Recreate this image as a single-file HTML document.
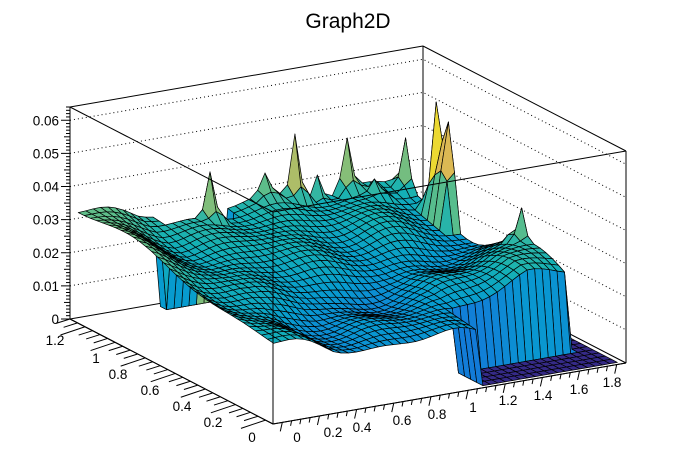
<!DOCTYPE html>
<html><head><meta charset="utf-8">
<style>html,body{margin:0;padding:0;background:#fff;}svg{display:block;font-family:"Liberation Sans",Arial,sans-serif;}</style>
</head><body>
<svg id="s" width="696" height="472" xmlns="http://www.w3.org/2000/svg">
<text x="348" y="28" text-anchor="middle" font-size="21">Graph2D</text>
<g id="back"></g><g id="surf"></g><g id="front"></g>
</svg>
<script>
const NS="http://www.w3.org/2000/svg";
const F=[273,424],X0=-0.05,Y0=-0.05,LX=1.9,LY=1.35,ZM=0.064;
const ex=[353,-61],ey=[-203,-105],ez=212;
function P(x,y,z){const a=(x-X0)/LX,b=(y-Y0)/LY;return [F[0]+a*ex[0]+b*ey[0],F[1]+a*ex[1]+b*ey[1]-z/ZM*ez];}
function el(p,tag,at,txt){const e=document.createElementNS(NS,tag);for(const k in at)e.setAttribute(k,at[k]);if(txt!==undefined)e.textContent=txt;p.appendChild(e);return e;}
const back=document.getElementById('back'),surf=document.getElementById('surf'),front=document.getElementById('front');
const L=P(X0,Y0+LY,0),B=P(X0+LX,Y0+LY,0),R=P(X0+LX,Y0,0),Fc=P(X0,Y0,0);
for(let k=1;k<=6;k++){const z=k*0.01;const a=P(X0,Y0+LY,z),b=P(X0+LX,Y0+LY,z),c=P(X0+LX,Y0,z);
el(back,'polyline',{points:`${a} ${b} ${c}`,fill:'none',stroke:'#000','stroke-width':1,'stroke-dasharray':'1,3'});}
const ln=(g,a,b,w)=>el(g,'line',{x1:a[0],y1:a[1],x2:b[0],y2:b[1],stroke:'#000','stroke-width':w||1});
ln(back,L,B);ln(back,B,R);ln(back,L,Fc);ln(back,Fc,R);
ln(back,L,P(X0,Y0+LY,ZM));ln(back,B,P(X0+LX,Y0+LY,ZM));ln(back,R,P(X0+LX,Y0,ZM));
const nx=46,ny=32,xa=-0.03,xb=1.82,ya=-0.03,yb=1.27;
function zb(x,y){
 if(x>1.08&&y<0.16)return 0; if(x>1.72)return 0; if(y>1.2&&x>0.38&&x<0.76)return 0;
 let z=0.019+0.009*y/1.2+(x<0.3?0.005*(0.3-x)/0.3:0)-0.002*x;
 z-=0.004*Math.exp(-Math.pow((y-0.15-0.35*x)/0.18,2))*Math.min(1,x*2);
 z+=0.0015*Math.sin(9*x+2*y)*Math.cos(7*y)+0.001*Math.sin(14*x-5*y);
 if(x>1.1) z+=0.009*Math.min(1,(x-1.1)/0.4)*Math.exp(-Math.pow((y-0.3)/0.3,2));
 return Math.max(z,0.004);
}
const Z=[];for(let i=0;i<=nx;i++){Z[i]=[];for(let j=0;j<=ny;j++){const x=xa+(xb-xa)*i/nx,y=ya+(yb-ya)*j/ny;Z[i][j]=zb(x,y);}}
const gx=i=>xa+(xb-xa)*i/nx, gy=j=>ya+(yb-ya)*j/ny;
const spk=[[210,195,172],[262,195,173],[298,185,134],[318,195,175],[350,180,138],[374,190,179],[404,180,138],[435,175,102],[458,175,141],[480,165,122],[520,215,208]];
for(const [sx,sb,st] of spk){
 let best=1e9,bi=0,bj=0;
 for(let i=0;i<=nx;i++)for(let j=0;j<=ny;j++){if(Z[i][j]<0.01)continue;const p=P(gx(i),gy(j),Z[i][j]);const d=Math.abs(p[0]-sx)*2+Math.abs(p[1]-sb);if(d<best){best=d;bi=i;bj=j;}}
 const fl=P(gx(bi),gy(bj),0);
 const zt=(fl[1]-st)/ez*ZM, z0=Z[bi][bj];
 for(let di=-1;di<=1;di++)for(let dj=-1;dj<=1;dj++){const a=bi+di,b=bj+dj;if(a<0||b<0||a>nx||b>ny||Z[a][b]<0.005)continue;
  if(di==0&&dj==0)continue; Z[a][b]=Math.max(Z[a][b],z0+(zt-z0)*((di==0||dj==0)?0.22:0.1));}
 Z[bi][bj]=zt;
}
const stops=[[0,53,42,135],[.125,15,92,221],[.25,18,125,216],[.375,7,156,207],[.5,21,177,180],[.625,89,189,140],[.75,165,190,107],[.875,225,185,82],[1,249,251,14]];
function col(z){let t=Math.max(0,Math.min(1,z/0.05));for(let k=1;k<stops.length;k++){if(t<=stops[k][0]){const a=stops[k-1],b=stops[k],f=(t-a[0])/(b[0]-a[0]);return `rgb(${[1,2,3].map(q=>Math.round(a[q]+(b[q]-a[q])*f)).join(',')})`;}}return 'rgb(249,251,14)';}
const cells=[];for(let i=0;i<nx;i++)for(let j=0;j<ny;j++)cells.push([i,j]);
cells.sort((p,q)=>(q[0]/nx+q[1]/ny)-(p[0]/nx+p[1]/ny));
let html='';
for(const [i,j] of cells){
 const pts=[[i,j],[i+1,j],[i+1,j+1],[i,j+1]].map(([a,b])=>P(gx(a),gy(b),Z[a][b]));
 const zs=[Z[i][j],Z[i+1][j],Z[i+1][j+1],Z[i][j+1]];
 const zavg=(zs[0]+zs[1]+zs[2]+zs[3])/4*0.6+Math.max(...zs)*0.4;
 html+=`<polygon points="${pts.map(p=>p[0].toFixed(1)+','+p[1].toFixed(1)).join(' ')}" fill="${col(Math.max(...zs)>0.035?Math.max(...zs)*0.85:zavg*0.97)}" stroke="#000" stroke-width="0.7" stroke-linejoin="round"/>`;
}
surf.innerHTML=html;
const T1=P(X0,Y0+LY,ZM),T2=P(X0+LX,Y0+LY,ZM),T3=P(X0+LX,Y0,ZM),T4=P(X0,Y0,ZM);
ln(front,T1,T2);ln(front,T2,T3);ln(front,T1,T4);ln(front,T4,T3);ln(front,Fc,T4);
ln(front,L,Fc);ln(front,Fc,R);
ln(front,L,T1);
for(let k=0;k<=64;k++){const z=k*0.001;const p=P(X0,Y0+LY,z);const major=k%10==0,half=k%5==0;
 const w=major?9:(half?6:4);ln(front,[p[0]-w,p[1]],p);
 if(major)el(front,'text',{x:p[0]-11,y:p[1]+5,'text-anchor':'end','font-size':13.5},k==0?'0':(z.toFixed(2)));}
const dxv=[-ex[0]/LX*0.02,-ex[1]/LX*0.02];
for(let k=0;k<=26;k++){const y=k*0.05;if(y>Y0+LY)break;const p=P(X0,y,0);const major=k%4==0;const s=major?3:1.7;
 ln(front,p,[p[0]+dxv[0]*s*2.2,p[1]+dxv[1]*s*2.2+(major?4:2)]);}
const yl=[["0",252,442],["0.2",213,427],["0.4",182,411],["0.6",150,395],["0.8",118,379],["1",96,363],["1.2",55,345]];
for(const [t,x,y] of yl)el(front,'text',{x:x,y:y,'text-anchor':'middle','font-size':13.5},t);
for(let k=0;k<=37;k++){const x=k*0.05;if(x>X0+LX)break;const p=P(x,Y0,0);const major=k%4==0;
 ln(front,p,[p[0]-(major?2:1),p[1]+(major?9:5)]);}
const xl=[["0",297,442],["0.2",333,437],["0.4",362,432],["0.6",402,425],["0.8",437,419],["1",473,412],["1.2",508,405],["1.4",543,400],["1.6",579,394],["1.8",612,387]];
for(const [t,x,y] of xl)el(front,'text',{x:x,y:y,'text-anchor':'middle','font-size':13.5},t);
</script>
</body></html>
